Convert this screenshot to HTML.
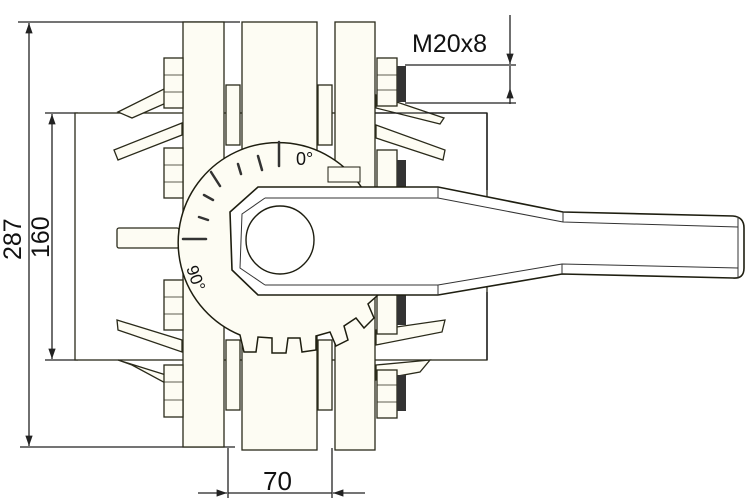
<!DOCTYPE html>
<html><head><style>
body{margin:0;background:#fff}
svg{display:block}
text{font-family:"Liberation Sans",sans-serif;fill:#111}
</style></head><body>
<svg width="746" height="503" viewBox="0 0 746 503" xmlns="http://www.w3.org/2000/svg">
<defs>
<marker id="a" viewBox="0 0 10 10" refX="10" refY="5" markerWidth="8" markerHeight="8" orient="auto-start-reverse"><path d="M0,1.5 L10,5 L0,8.5 z" fill="#222"/></marker>
</defs>
<g stroke="#222" stroke-width="1.3" fill="none">
<line x1="18" y1="22" x2="240" y2="22"/>
<line x1="20" y1="447" x2="235" y2="447"/>
<line x1="29" y1="23" x2="29" y2="446" marker-start="url(#a)" marker-end="url(#a)"/>
<line x1="45" y1="113" x2="78" y2="113"/>
<line x1="45" y1="360" x2="78" y2="360"/>
<line x1="52" y1="114" x2="52" y2="359" marker-start="url(#a)" marker-end="url(#a)"/>
<line x1="228" y1="448" x2="228" y2="498"/>
<line x1="332" y1="448" x2="332" y2="498"/>
<line x1="198" y1="493" x2="227" y2="493" marker-end="url(#a)"/>
<line x1="228" y1="493" x2="332" y2="493"/>
<line x1="365" y1="493" x2="333" y2="493" marker-end="url(#a)"/>
<line x1="405" y1="65" x2="516" y2="65"/>
<line x1="405" y1="103" x2="516" y2="103"/>
<line x1="510" y1="15" x2="510" y2="64" marker-end="url(#a)"/>
<line x1="510" y1="104" x2="510" y2="88" marker-end="url(#a)"/>
<line x1="510" y1="66" x2="510" y2="88"/>
</g>
<text x="0" y="0" font-size="25" transform="translate(21,260) rotate(-90)">287</text>
<text x="0" y="0" font-size="25" transform="translate(49,258) rotate(-90)">160</text>
<text x="263" y="490" font-size="26">70</text>
<text x="412" y="52" font-size="25">M20x8</text>

<g stroke="#2a2a1a" stroke-width="1.3" fill="#fdfcf3">
<rect x="75" y="113" width="412" height="247" fill="#fff"/>
<polygon points="118,112 182,80 182,96 132,118"/>
<polygon points="114,150 182,123 182,135 118,160"/>
<polygon points="117,320 182,340 182,352 118,330"/>
<polygon points="118,360 182,380 182,392 132,365"/>
<polygon points="376,95 444,118 440,124 376,108"/>
<polygon points="376,125 445,150 443,160 376,138"/>
<polygon points="376,330 445,320 442,332 376,345"/>
<polygon points="376,365 430,360 420,372 376,380"/>
<rect x="117" y="228" width="62" height="20" rx="2"/>
<rect x="183" y="22" width="41" height="425"/>
<rect x="242" y="22" width="75" height="428"/>
<rect x="335" y="22" width="40" height="428"/>
<rect x="226" y="85" width="14" height="60"/>
<rect x="318" y="85" width="14" height="60"/>
<rect x="226" y="340" width="14" height="70"/>
<rect x="318" y="340" width="14" height="70"/>
<rect x="164" y="58" width="19" height="50"/>
<rect x="164" y="148" width="19" height="50"/>
<rect x="164" y="280" width="19" height="50"/>
<rect x="164" y="365" width="19" height="52"/>
<rect x="377" y="58" width="20" height="48"/>
<rect x="377" y="150" width="20" height="44"/>
<rect x="377" y="290" width="20" height="44"/>
<rect x="377" y="370" width="20" height="48"/>
</g>
<g fill="#333">
<rect x="397" y="66" width="9" height="36"/>
<rect x="397" y="160" width="9" height="30"/>
<rect x="397" y="295" width="9" height="30"/>
<rect x="397" y="375" width="9" height="36"/>
</g>
<g stroke="#2a2a1a" stroke-width="0.8">
<line x1="164" y1="75" x2="183" y2="75"/><line x1="164" y1="92" x2="183" y2="92"/>
<line x1="164" y1="165" x2="183" y2="165"/><line x1="164" y1="182" x2="183" y2="182"/>
<line x1="164" y1="297" x2="183" y2="297"/><line x1="164" y1="314" x2="183" y2="314"/>
<line x1="164" y1="382" x2="183" y2="382"/><line x1="164" y1="400" x2="183" y2="400"/>
<line x1="377" y1="75" x2="397" y2="75"/><line x1="377" y1="90" x2="397" y2="90"/>
<line x1="377" y1="385" x2="397" y2="385"/><line x1="377" y1="402" x2="397" y2="402"/>
</g>

<path d="M362,188 A100,100 0 1 0 240,335 L244,352 L256,352 L258,337 L272,338 L272,353 L286,353 L288,338 L300,338 L302,352 L316,350 L316,336 L330,332 L336,346 L348,340 L344,326 L356,318 L364,328 L374,318 L368,304 L378,295 L365,188 Z" fill="#fdfcf3" stroke="#1e1e10" stroke-width="1.5"/>
<g stroke="#333" stroke-width="2.5" stroke-linecap="round">
<line x1="279" y1="142" x2="279" y2="166"/>
<line x1="258" y1="156" x2="262" y2="170"/>
<line x1="238" y1="164" x2="241" y2="174"/>
<line x1="211" y1="172" x2="220" y2="186"/>
<line x1="204" y1="195" x2="213" y2="200"/>
<line x1="199" y1="217" x2="208" y2="220"/>
<line x1="183" y1="239" x2="206" y2="239"/>
</g>
<text x="296" y="165" font-size="18">0°</text>
<text x="0" y="0" font-size="17" transform="translate(186,268) rotate(70)">90°</text>

<path d="M258,187 L438,187 L563,212 L733,216 Q744,217 744,228 L744,268 Q744,279 733,278 L562,274 L438,295 L258,295 L232,270 L230,212 Z" fill="#fff" stroke="#1e1e10" stroke-width="1.6"/>
<path d="M265,198 L438,198 L563,222 L738,227 M265,285 L438,285 L562,264 L738,268 M738,217 L738,278 M438,187 L438,198 M563,212 L563,222 M438,285 L438,295 M562,264 L562,274" fill="none" stroke="#333" stroke-width="1"/>
<path d="M265,198 L242,214 L240,268 L265,285" fill="none" stroke="#333" stroke-width="1"/>
<circle cx="280" cy="240" r="34" fill="#fff" stroke="#1e1e10" stroke-width="1.4"/>
<rect x="328" y="167" width="32" height="15" fill="#fdfcf3" stroke="#1e1e10"/>
<line x1="375" y1="113" x2="487" y2="113" stroke="#222" stroke-width="1.3"/>
<line x1="487" y1="113" x2="487" y2="190" stroke="#222" stroke-width="1.5"/>
<line x1="487" y1="292" x2="487" y2="360" stroke="#222" stroke-width="1.5"/>
</svg>
</body></html>
